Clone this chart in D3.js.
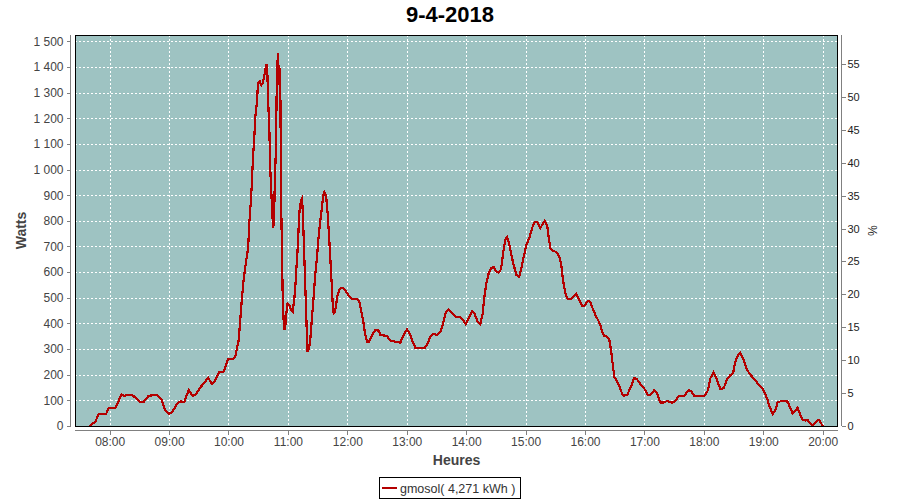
<!DOCTYPE html>
<html><head><meta charset="utf-8">
<script src="https://cdn.jsdelivr.net/npm/d3@7"></script>
<style>body{margin:0;background:#fff}svg{display:block}</style>
</head><body>
<svg id="c" width="900" height="500"></svg>
<script>
const chartTitle = "9-4-2018";
const seriesName = "gmosol( 4,271 kWh )";
const yLabel = "Watts";
const y2Label = "%";
const xLabel = "Heures";
// minutes since midnight
const minutes = [459.5,465.6,468.9,476.4,479,485.0,487.5,491.8,494.1,502.6,507.7,511.0,514.3,519.4,527.9,532.2,535.5,539.6,543.0,548.1,551.4,555.4,559.8,563.8,566.5,571.6,575.9,579.4,583.4,586.7,590.8,595.1,599.6,603.6,606.9,
608.6,610.3,612.0,613.7,615.3,617.7,619.8,621.1,622.8,623.8,624.8,626.1,627.1,628.8,629.4,630.5,631.5,633.2,634.5,636.2,637.5,638.5,639.2,640.0,641.3,642.3,644.0,645.0,646.0,646.6,648.0,648.6,649.3,650.0,651.1,651.7,652.4,653.1,654.1,654.7,655.7,656.4,657.4,658.4,659.7,661.5,663.2,664.8,666.5,
667.8,669.0,670.0,670.8,671.9,673.3,674.3,674.9,675.9,676.9,677.9,678.9,679.9,681.4,682.7,684.4,686.0,687.7,689.4,691.0,692.8,694.5,695.5,696.8,698.5,700.1,701.6,702.9,704.2,705.2,706.2,707.6,708.9,710.2,712.0,714.0,716.3,718.7,721.0,723.8,727.1,729.8,732.1,733.9,735.9,737.9,739.9,741.9,745.0,748.3,751.6,753.4,760.1,763.4,773.5,
776.9,780.3,782.9,785.4,788.7,797.8,800.5,803.8,807.2,810.6,814.0,816.7,819.0,822.3,825.8,829.1,833.4,836.9,839.5,842.5,846.0,848.3,851.6,854.3,856.7,858.4,860.4,862.7,865.1,867.8,870.5,872.8,875.2,877.3,879.6,881.3,883.3,885.6,888.0,890.7,893.4,895.4,898.1,900.8,904.1,906.5,909.2,911.6,914.9,917.2,919.3,921.7,923.3,925.0,927.7,931.1,933.8,936.1,937.8,940.2,942.5,945.9,948.5,951.0,953.6,957.0,959.7,962.7,965.4,967.7,970.5,973.2,975.5,977.2,979.5,982.3,984.6,986.3,987.9,989.6,992.4,995.0,997.4,999.0,1002.5,1006.5,1009.8,1012.6,1015.9,1019.2,1023.3,1026.0,1030.0,1032.8,1036.1,1039.4,1042.9,1047.9,1051.2,1054.6,1060.3,1064.7,1067.4,1070.4,1080.8,1084.3,1086.6,1089.9,1093.4,1096.7,1100.0,1103.5,1106.8,1109.5,1111.8,1114.6,1116.9,1119.6,1122.9,1126.3,1130.3,1134.4,1138.1,1141.1,1143.8,1146.5,1149.5,1152.2,1154.5,1158.0,1162.3,1164.6,1167.4,1169.7,1171.7,1174.7,1176.7,1179.2,1182.5,1184.8,1187.5,1189.9,1192.6,1194.9,1196.9,1199.4,1200.4];
const watts = [0,17,47,47,69,69,82,123,118,122,104,92,94,118,121,105,66,47,53,86,96,94,140,117,121,151,169,188,164,179,212,212,260,260,270,
303,335,420,504,569,641,693,796,887,966,1050,1128,1206,1264,1310,1342,1345,1329,1336,1368,1394,1410,1381,1278,1147,991,849,771,797,920,1096,1290,1407,1453,1329,1394,1290,894,660,517,407,374,387,439,478,472,452,446,498,
563,640,700,771,849,881,888,842,738,621,504,387,290,303,342,426,504,595,660,738,803,855,894,913,901,829,738,647,556,478,439,446,478,511,530,539,537,524,511,498,494,495,485,452,413,361,329,329,355,374,372,355,351,333,325,
355,377,361,335,305,303,316,348,359,355,368,400,439,455,439,426,426,413,398,420,448,439,407,398,439,504,556,595,615,621,602,598,611,673,728,736,712,667,628,589,582,608,660,706,738,771,797,797,771,788,799,784,738,693,684,678,663,628,569,517,494,494,507,515,498,469,469,487,485,459,433,413,394,368,352,348,335,296,244,192,173,153,127,118,121,153,188,182,163,151,121,121,140,127,92,92,97,91,97,118,118,140,134,118,118,140,186,209,179,143,147,182,199,205,251,277,286,264,225,203,186,166,151,134,108,75,47,62,92,97,97,95,69,49,56,71,52,27,21,23,10,1,13,23,21,4,0];
const hourTicks = [480,540,600,660,720,780,840,900,960,1020,1080,1140,1200];
const wattTicks = [0,100,200,300,400,500,600,700,800,900,1000,1100,1200,1300,1400,1500];
const pctTicks = [0,5,10,15,20,25,30,35,40,45,50,55];

const svg = d3.select("#c");
const L = 75, R = 838, T = 35, B = 426;
const FONT = "Liberation Sans, Arial, sans-serif";

const x = d3.scaleLinear().domain([445, 1215.5]).range([L, R]);
const y = d3.scaleLinear().domain([0, 1524.6]).range([B, T]);
const y2 = d3.scaleLinear().domain([0, 59.4]).range([B, T]);

const loc = d3.formatLocale({decimal: ",", thousands: " ", grouping: [3], currency: ["", ""]});
const fmtW = loc.format(",d");
const fmtH = m => String(Math.floor(m / 60)).padStart(2, "0") + ":" + String(Math.round(m % 60)).padStart(2, "0");

// plot background
svg.append("rect").attr("x", L).attr("y", T).attr("width", R - L).attr("height", B - T).attr("fill", "#9ec3c2");

// gridlines
const grid = svg.append("g").attr("stroke", "#ffffff").attr("stroke-width", 1).attr("stroke-dasharray", "2,2").attr("shape-rendering", "crispEdges");
grid.selectAll("line.h").data(wattTicks).join("line").attr("class", "h")
  .attr("x1", L).attr("x2", R).attr("y1", d => Math.round(y(d)) + 0.5).attr("y2", d => Math.round(y(d)) + 0.5);
grid.selectAll("line.v").data(hourTicks).join("line").attr("class", "v")
  .attr("y1", T).attr("y2", B).attr("x1", d => Math.round(x(d)) + 0.5).attr("x2", d => Math.round(x(d)) + 0.5);

// data line
svg.append("clipPath").attr("id", "clip").append("rect").attr("x", L).attr("y", T).attr("width", R - L).attr("height", B - T);
const pts = minutes.map((m, i) => [m, watts[i]]);
svg.append("path").datum(pts).attr("clip-path", "url(#clip)")
  .attr("fill", "none").attr("stroke", "#b40000").attr("stroke-width", 2.2).attr("stroke-linejoin", "miter")
  .attr("shape-rendering", "crispEdges")
  .attr("d", d3.line().x(d => x(d[0])).y(d => y(d[1])));

// plot border
svg.append("rect").attr("x", L + 0.5).attr("y", T + 0.5).attr("width", R - L - 1).attr("height", B - T)
  .attr("fill", "none").attr("stroke", "#000").attr("stroke-width", 1).attr("shape-rendering", "crispEdges");

function styleAxis(g, col) {
  g.attr("font-family", FONT).attr("font-size", 12);
  g.select(".domain").attr("stroke", "#808080").attr("shape-rendering", "crispEdges");
  g.selectAll(".tick line").attr("stroke", "#808080").attr("shape-rendering", "crispEdges");
  g.selectAll(".tick text").attr("fill", col);
}

// left axis
const gl = svg.append("g").attr("transform", `translate(${L - 4.5},0)`)
  .call(d3.axisLeft(y).tickValues(wattTicks).tickFormat(fmtW).tickSize(4).tickSizeOuter(0).tickPadding(3));
gl.select(".domain").attr("d", `M0,${T}V${B}`);
styleAxis(gl, "#444");

// right axis
const gr = svg.append("g").attr("transform", `translate(${R + 3.5},0)`)
  .call(d3.axisRight(y2).tickValues(pctTicks).tickSize(4).tickSizeOuter(0).tickPadding(2));
gr.select(".domain").attr("d", `M0,${T}V${B}`);
styleAxis(gr, "#222");
gr.attr("font-size", 11);

// bottom axis
const gb = svg.append("g").attr("transform", `translate(0,${B + 4.5})`)
  .call(d3.axisBottom(x).tickValues(hourTicks).tickFormat(fmtH).tickSize(4).tickSizeOuter(0).tickPadding(3));
gb.select(".domain").attr("d", `M${L},0H${R}`);
styleAxis(gb, "#444");

// titles
svg.append("text").attr("x", 450).attr("y", 22).attr("text-anchor", "middle")
  .attr("font-family", FONT).attr("font-weight", "bold").attr("font-size", 22).attr("fill", "#000").text(chartTitle);
svg.append("text").attr("transform", `translate(26,${(T + B) / 2}) rotate(-90)`).attr("text-anchor", "middle")
  .attr("font-family", FONT).attr("font-size", 14).attr("font-weight", "bold").attr("fill", "#444").text(yLabel);
svg.append("text").attr("transform", `translate(868,${(T + B) / 2}) rotate(90)`).attr("text-anchor", "middle")
  .attr("font-family", FONT).attr("font-size", 12).attr("fill", "#222").text(y2Label);
svg.append("text").attr("x", (L + R) / 2).attr("y", 465).attr("text-anchor", "middle")
  .attr("font-family", FONT).attr("font-size", 14).attr("font-weight", "bold").attr("fill", "#444").text(xLabel);

// legend
const lg = svg.append("g");
lg.append("rect").attr("x", 379.5).attr("y", 477.5).attr("width", 141).attr("height", 21)
  .attr("fill", "#fff").attr("stroke", "#000").attr("stroke-width", 1).attr("shape-rendering", "crispEdges");
lg.append("line").attr("x1", 382).attr("x2", 397).attr("y1", 488).attr("y2", 488).attr("stroke", "#b40000").attr("stroke-width", 2);
lg.append("text").attr("x", 400).attr("y", 493).attr("font-family", FONT).attr("font-size", 12.5).attr("fill", "#333").text(seriesName);
</script>
</body></html>
